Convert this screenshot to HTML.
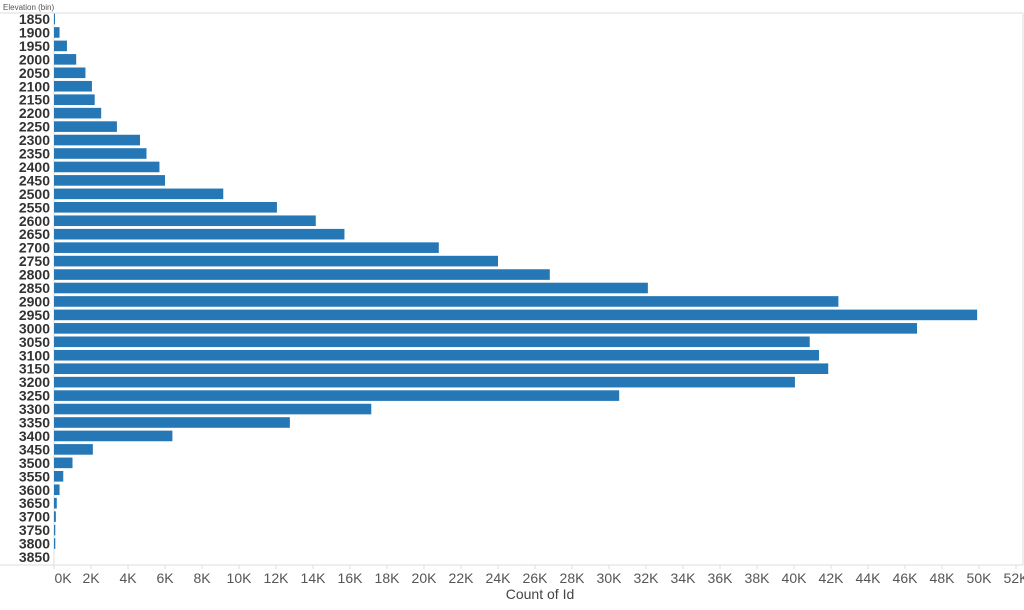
<!DOCTYPE html>
<html><head><meta charset="utf-8"><style>
body{margin:0;background:#fff;width:1024px;height:605px;overflow:hidden;font-family:"Liberation Sans",Arial,sans-serif}
</style></head><body>
<svg id="chart" width="1024" height="605" xmlns="http://www.w3.org/2000/svg">
<text x="3" y="10" font-size="8" fill="#555">Elevation (bin)</text>
<line x1="0" y1="13" x2="1023" y2="13" stroke="#ddd"/>
<line x1="1023" y1="13" x2="1023" y2="565" stroke="#ddd"/>
<line x1="0" y1="565" x2="1023" y2="565" stroke="#ddd"/>
<line x1="54" y1="13" x2="54" y2="565" stroke="#ddd"/>
<g id="bars"></g><g id="ylabels"></g><g id="xticks"></g>
<text x="540" y="599" font-size="14" fill="#444" text-anchor="middle">Count of Id</text>
</svg>
<script>
const categories=[1850,1900,1950,2000,2050,2100,2150,2200,2250,2300,2350,2400,2450,2500,2550,2600,2650,2700,2750,2800,2850,2900,2950,3000,3050,3100,3150,3200,3250,3300,3350,3400,3450,3500,3550,3600,3650,3700,3750,3800,3850];
const counts=[50,300,700,1200,1700,2050,2200,2550,3400,4650,5000,5700,6000,9150,12050,14150,15700,20800,24000,26800,32100,42400,49900,46650,40850,41350,41850,40050,30550,17150,12750,6400,2100,1000,500,300,150,100,70,70,0];
const tickValues=[0,2,4,6,8,10,12,14,16,18,20,22,24,26,28,30,32,34,36,38,40,42,44,46,48,50,52];
const NS="http://www.w3.org/2000/svg";
const x=v=>54+v*18.5/1000;
const y=i=>19+i*13.45;
const bars=document.getElementById('bars'),yl=document.getElementById('ylabels'),xt=document.getElementById('xticks');
categories.forEach((c,i)=>{
 if(counts[i]>0){
  const r=document.createElementNS(NS,'rect');
  
  
  r.setAttribute('x',x(0));r.setAttribute('y',y(i)-5.3);
  r.setAttribute('width',Math.max(1,x(counts[i])-x(0)));r.setAttribute('height',10.6);
  r.setAttribute('fill','#2677b5');bars.appendChild(r);
 }
 const t=document.createElementNS(NS,'text');
 
 
 t.setAttribute('x',50);t.setAttribute('y',y(i)+5);t.setAttribute('text-anchor','end');
 t.setAttribute('font-size','14');t.setAttribute('font-weight','bold');t.setAttribute('fill','#333');
 t.textContent=c;yl.appendChild(t);
});
tickValues.forEach(v=>{
 const px=x(v*1000);
 const l=document.createElementNS(NS,'line');
 
 
 l.setAttribute('x1',px);l.setAttribute('x2',px);l.setAttribute('y1',565);l.setAttribute('y2',569);l.setAttribute('stroke','#ddd');xt.appendChild(l);
 const t=document.createElementNS(NS,'text');
 
 
 t.setAttribute('x',v===0?63:px);t.setAttribute('y',583);t.setAttribute('text-anchor','middle');
 t.setAttribute('font-size','14');t.setAttribute('fill','#555');
 t.textContent=v+'K';xt.appendChild(t);
});
</script>
</body></html>
